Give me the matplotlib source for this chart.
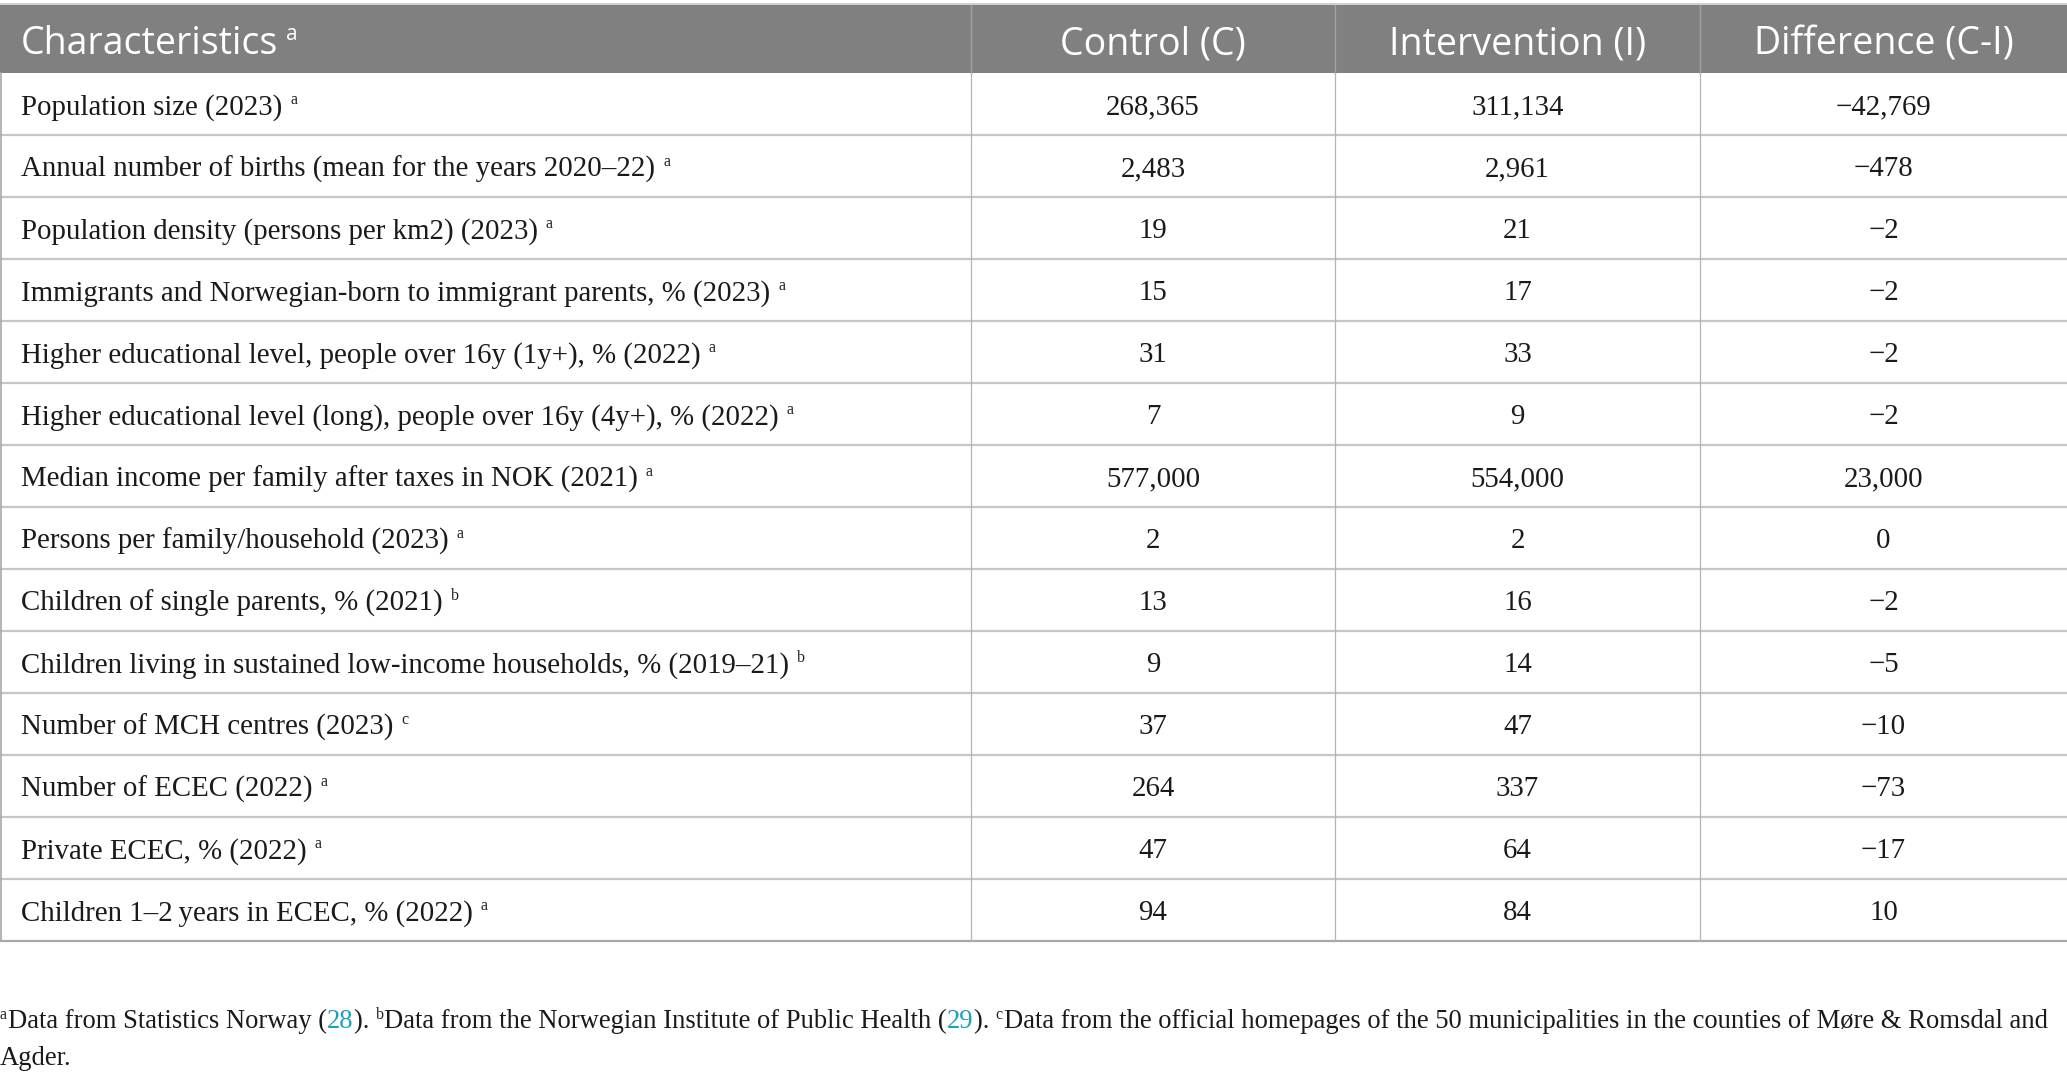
import matplotlib
matplotlib.use("Agg")
import matplotlib.pyplot as plt
from matplotlib.patches import Rectangle

# table content
headers = ["Characteristics", "Control (C)", "Intervention (I)", "Difference (C-I)"]
header_note = "a"

characteristics = [
    "Population size (2023)",
    "Annual number of births (mean for the years 2020\u201322)",
    "Population density (persons per km2) (2023)",
    "Immigrants and Norwegian-born to immigrant parents, % (2023)",
    "Higher educational level, people over 16y (1y+), % (2022)",
    "Higher educational level (long), people over 16y (4y+), % (2022)",
    "Median income per family after taxes in NOK (2021)",
    "Persons per family/household (2023)",
    "Children of single parents, % (2021)",
    "Children living in sustained low-income households, % (2019\u201321)",
    "Number of MCH centres (2023)",
    "Number of ECEC (2022)",
    "Private ECEC, % (2022)",
    "Children 1\u20132\u2009years in ECEC, % (2022)",
]
notes = ["a", "a", "a", "a", "a", "a", "a", "a", "b", "b", "c", "a", "a", "a"]
control = ["268,365", "2,483", "19", "15", "31", "7", "577,000", "2", "13", "9",
           "37", "264", "47", "94"]
intervention = ["311,134", "2,961", "21", "17", "33", "9", "554,000", "2", "16", "14",
                "47", "337", "64", "84"]
difference = ["\u221242,769", "\u2212478", "\u22122", "\u22122", "\u22122", "\u22122", "23,000",
              "0", "\u22122", "\u22125", "\u221210", "\u221273", "\u221217", "10"]

# footnote pieces: (text, kind)  kind: 't' text, 's' superscript, 'l' link
footnote_line1 = [
    ("a", "s"), ("Data from Statistics Norway (", "t"), ("28", "l"), ("). ", "t"),
    ("b", "s"), ("Data from the Norwegian Institute of Public Health (", "t"), ("29", "l"),
    ("). ", "t"), ("c", "s"),
    ("Data from the official homepages of the 50 municipalities in the counties of "
     "M\u00f8re & Romsdal and", "t"),
]
footnote_line2 = [("Agder.", "t")]

W, H = 2067, 1079
serif = ["Liberation Serif", "DejaVu Serif"]
sans = ["Open Sans", "DejaVu Sans"]
body_size = 20.8
sup_size = 11.5
head_size = 27
foot_size = 19.2

fig = plt.figure(figsize=(W / 100, H / 100), dpi=100)
ax = fig.add_axes([0, 0, 1, 1])
ax.set_xlim(0, W)
ax.set_ylim(H, 0)
ax.axis("off")
renderer = fig.canvas.get_renderer()

col_edges = [0, 971, 1335, 1700, W]
head_top, head_bot = 5, 72.5
row_h = 62.0
n = len(characteristics)
table_bot = head_bot + n * row_h


def width_of(s, **kw):
    a = ax.text(0, 0, "x" + s + "x", **kw)
    b = ax.text(0, 0, "xx", **kw)
    w = a.get_window_extent(renderer).width - b.get_window_extent(renderer).width
    a.remove()
    b.remove()
    return w


def draw_run(x, y, pieces, size, sup_gap=0, sup_raise=10):
    for s, kind in pieces:
        if kind == "s":
            kw = dict(fontsize=sup_size, family=serif, color="#222222")
            ax.text(x + sup_gap, y - sup_raise, s, va="baseline", ha="left", **kw)
            x += sup_gap + width_of(s, **kw) + 1
        else:
            col = "#1ba1be" if kind == "l" else "#1a1a1a"
            kw = dict(fontsize=size, family=serif, color=col)
            ax.text(x, y, s, va="baseline", ha="left", **kw)
            x += width_of(s, **kw)
    return x


# header band
ax.add_patch(Rectangle((0, head_top), W, head_bot - head_top, facecolor="#7f807f",
                       edgecolor="none"))
ax.plot([0, W], [head_top - 1, head_top - 1], color="#c8c8c8", lw=1.2)
for xe in col_edges[1:-1]:
    ax.plot([xe, xe], [head_top, head_bot], color="#a3a3a3", lw=1.0)

hy = (head_top + head_bot) / 2 + 15.5
t = ax.text(21, hy, headers[0], fontsize=head_size, family=sans, color="white",
            va="baseline", ha="left")
hx = t.get_window_extent(renderer).x1
ax.text(hx + 8, hy - 14, header_note, fontsize=15, family=sans, color="white",
        va="baseline", ha="left")
for j in range(1, 4):
    cx = (col_edges[j] + col_edges[j + 1]) / 2
    ax.text(cx, hy, headers[j], fontsize=head_size, family=sans, color="white",
            va="baseline", ha="center")

# rows
for i in range(n):
    y0 = head_bot + i * row_h
    yb = y0 + row_h / 2 + 11
    draw_run(21, yb, [(characteristics[i], "t"), (notes[i], "s")], body_size,
             sup_gap=8, sup_raise=11)
    for j, vals in enumerate([control, intervention, difference], start=1):
        cx = (col_edges[j] + col_edges[j + 1]) / 2
        ax.text(cx, yb, vals[i], fontsize=body_size, family=serif, color="#1a1a1a",
                va="baseline", ha="center")
    if i > 0:
        ax.plot([0, W], [y0, y0], color="#c6c6c6", lw=1.6)

ax.plot([0, W], [table_bot, table_bot], color="#a8a8a8", lw=1.6)
for xe in col_edges[1:-1]:
    ax.plot([xe, xe], [head_bot, table_bot], color="#b4b4b4", lw=0.9)
ax.plot([0.8, 0.8], [head_bot, table_bot], color="#a8a8a8", lw=1.2)

# footnote
draw_run(0, 1028, footnote_line1, foot_size, sup_raise=9)
draw_run(0, 1065, footnote_line2, foot_size)

fig.savefig("out.png", dpi=100)
